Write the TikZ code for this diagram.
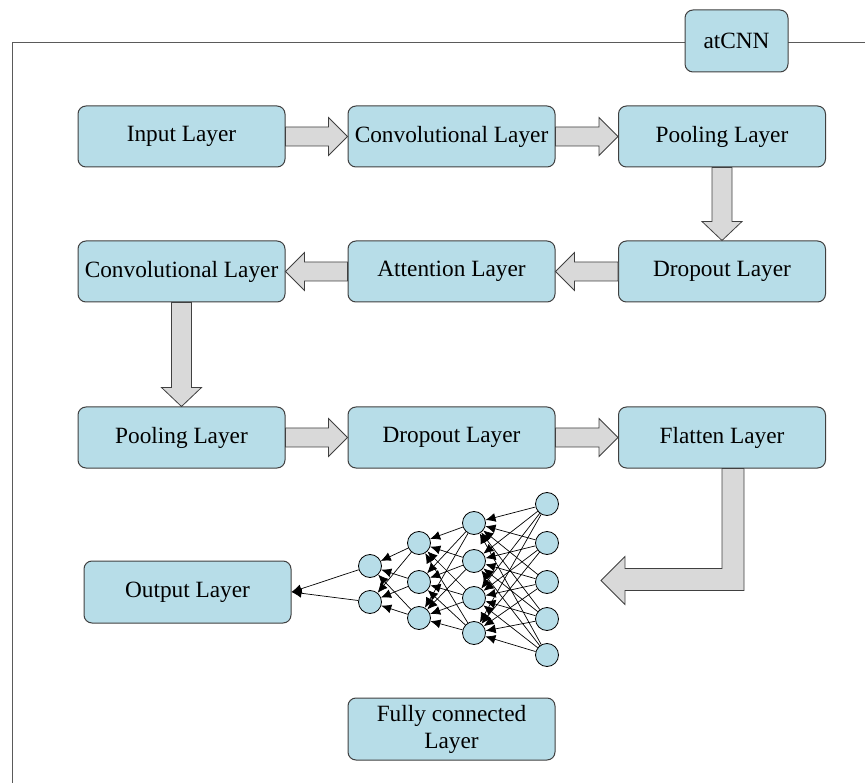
\documentclass[tikz,border=0pt]{standalone}
\usepackage{fontspec}
\setmainfont{Liberation Serif}
\usetikzlibrary{calc,arrows.meta}
\definecolor{boxblue}{RGB}{183,221,232}
\definecolor{arrowgray}{RGB}{217,217,217}
\definecolor{edgegray}{RGB}{64,64,64}
\definecolor{framegray}{RGB}{90,90,90}
\newcommand{\rblock}[2]{\draw[blockarrow] ($(#1.east)+(0,-9.5)$) -- ($(#2.west)+(-19,-9.5)$) -- ($(#2.west)+(-19,-19)$) -- (#2.west) -- ($(#2.west)+(-19,19)$) -- ($(#2.west)+(-19,9.5)$) -- ($(#1.east)+(0,9.5)$) -- cycle;}
\newcommand{\lblock}[2]{\draw[blockarrow] ($(#1.west)+(0,-9.5)$) -- ($(#2.east)+(19,-9.5)$) -- ($(#2.east)+(19,-19)$) -- (#2.east) -- ($(#2.east)+(19,19)$) -- ($(#2.east)+(19,9.5)$) -- ($(#1.west)+(0,9.5)$) -- cycle;}
\newcommand{\dblock}[2]{\draw[blockarrow] ($(#1.south)+(-10,0)$) -- ($(#2.north)+(-10,-19)$) -- ($(#2.north)+(-20,-19)$) -- (#2.north) -- ($(#2.north)+(20,-19)$) -- ($(#2.north)+(10,-19)$) -- ($(#1.south)+(10,0)$) -- cycle;}
\begin{document}
\begin{tikzpicture}[x=1pt,y=-1pt,
 layer/.style={draw=edgegray,fill=boxblue,rounded corners=8pt,line width=1pt,minimum width=207pt,minimum height=61pt,inner sep=0pt,font=\fontsize{23.3}{27}\selectfont,align=center},
 blockarrow/.style={draw=edgegray,fill=arrowgray,line width=0.8pt,line join=miter},
 neuron/.style={circle,draw=black,fill=boxblue,minimum size=23pt,inner sep=0pt,line width=0.8pt},
 nnlink/.style={-{Latex[length=10pt,width=9pt]},line width=0.7pt,black}]
\useasboundingbox (0,0) rectangle (865,783);
\draw[framegray,line width=0.9pt] (12,783) -- (12,42) -- (865,42);
\node[layer,minimum width=103pt,minimum height=62pt] (atcnn) at (736.5,41) {atCNN};
\node[layer] (in1) at (181.5,136.5) {Input Layer};
\node[layer] (cv1) at (451.5,136.5) {Convolutional Layer};
\node[layer] (pl1) at (722,136.5) {Pooling Layer};
\node[layer] (cv2) at (181.5,271.5) {Convolutional Layer};
\node[layer] (at1) at (451.5,271.5) {Attention Layer};
\node[layer] (dp1) at (722,271.5) {Dropout Layer};
\node[layer] (pl2) at (181.5,437.5) {Pooling Layer};
\node[layer] (dp2) at (451.5,437.5) {Dropout Layer};
\node[layer] (fl) at (722,437.5) {Flatten Layer};
\node[layer,minimum height=62pt] (out) at (187.5,592) {Output Layer};
\node[layer,minimum height=62pt] (fc) at (451.5,729) {Fully connected\\Layer};
\rblock{in1}{cv1}
\rblock{cv1}{pl1}
\dblock{pl1}{dp1}
\lblock{dp1}{at1}
\lblock{at1}{cv2}
\dblock{cv2}{pl2}
\rblock{pl2}{dp2}
\rblock{dp2}{fl}
\draw[blockarrow] (fl.south) -- ($(fl.south)+(0,100)$) -- ($(fl.south)+(-97,100)$) -- ($(fl.south)+(-97,88)$) -- ($(fl.south)+(-121,112)$) -- ($(fl.south)+(-97,136)$) -- ($(fl.south)+(-97,122)$) -- ($(fl.south)+(22,122)$) -- ($(fl.south)+(22,0)$) -- cycle;
% neural network
\node[neuron] (n1a) at (370,566) {};
\node[neuron] (n1b) at (370,602) {};
\node[neuron] (n2a) at (419,543) {};
\node[neuron] (n2b) at (419,582) {};
\node[neuron] (n2c) at (419,618) {};
\node[neuron] (n3a) at (474,523) {};
\node[neuron] (n3b) at (474,561) {};
\node[neuron] (n3c) at (474,598) {};
\node[neuron] (n3d) at (474,633) {};
\node[neuron] (n4a) at (547,504) {};
\node[neuron] (n4b) at (547,543) {};
\node[neuron] (n4c) at (547,582) {};
\node[neuron] (n4d) at (547,619) {};
\node[neuron] (n4e) at (547,655) {};
\foreach \s in {a,b,c,d,e}{\foreach \t in {a,b,c,d}{\draw[nnlink] (n4\s) -- (n3\t);}}
\foreach \s in {a,b,c,d}{\foreach \t in {a,b,c}{\draw[nnlink] (n3\s) -- (n2\t);}}
\foreach \s in {a,b,c}{\foreach \t in {a,b}{\draw[nnlink] (n2\s) -- (n1\t);}}
\draw[nnlink] (n1a) -- (out.east);
\draw[nnlink] (n1b) -- (out.east);
\end{tikzpicture}
\end{document}
